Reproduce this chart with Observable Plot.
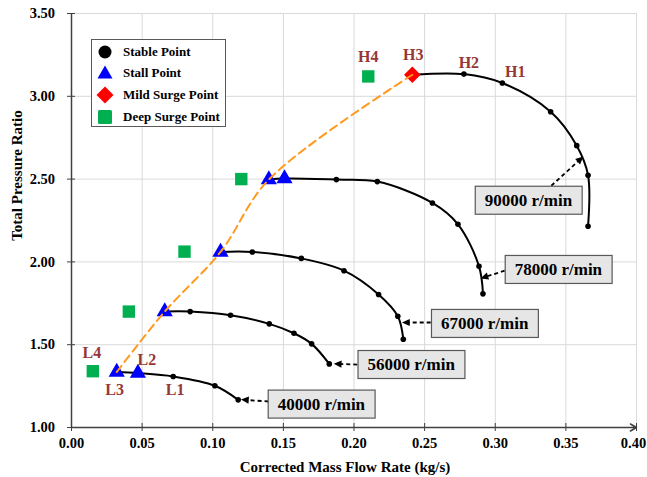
<!DOCTYPE html>
<html>
<head>
<meta charset="utf-8">
<script src="https://cdn.jsdelivr.net/npm/d3@7"></script>
<script src="https://cdn.jsdelivr.net/npm/@observablehq/plot@0.6"></script>
<style>
  html, body { margin: 0; padding: 0; background: #fff; }
  #chart { position: relative; width: 647px; height: 477px; font-family: "Liberation Serif", "Times New Roman", serif; }
  #chart svg text { font-family: "Liberation Serif", "Times New Roman", serif; font-weight: bold; }
  .legend {
    position: absolute; left: 91px; top: 39px; width: 135px; height: 88px;
    box-sizing: border-box; border: 1px solid #595959; background: #fff;
    font-weight: bold; font-size: 13px; color: #000;
  }
  .legend .row { position: absolute; left: 0; height: 20px; display: flex; align-items: center; }
  .legend .row svg { width: 24px; height: 20px; margin-left: 1px; }
  .legend .row span { margin-left: 6px; white-space: nowrap; }
</style>
</head>
<body>
<div id="chart"></div>
<script>
// Compressor map: total pressure ratio vs corrected mass flow rate per speed line.
// Kinds: "stable" point, "stall" point, "mild" surge point.
const flow40000 = [0.032, 0.047, 0.072, 0.1015, 0.118];
const ratio40000 = [1.335, 1.328, 1.308, 1.252, 1.167];
const kind40000 = ["stall", "stall", "stable", "stable", "stable"];

const flow56000 = [0.066, 0.084, 0.1126, 0.140, 0.1575, 0.170, 0.1825];
const ratio56000 = [1.700, 1.700, 1.678, 1.626, 1.569, 1.505, 1.384];
const kind56000 = ["stall", "stable", "stable", "stable", "stable", "stable", "stable"];

const flow67000 = [0.1055, 0.128, 0.1627, 0.1929, 0.2174, 0.231, 0.2349];
const ratio67000 = [2.060, 2.060, 2.021, 1.947, 1.803, 1.672, 1.533];
const kind67000 = ["stall", "stable", "stable", "stable", "stable", "stable", "stable"];

const flow78000 = [0.1397, 0.1508, 0.1875, 0.2165, 0.2555, 0.2736, 0.2885, 0.2913];
const ratio78000 = [2.497, 2.503, 2.497, 2.485, 2.356, 2.227, 1.973, 1.807];
const kind78000 = ["stall", "stall", "stable", "stable", "stable", "stable", "stable", "stable"];

const flow90000 = [0.2413, 0.2778, 0.305, 0.3392, 0.3577, 0.3657, 0.3657];
const ratio90000 = [3.130, 3.134, 3.080, 2.907, 2.702, 2.523, 2.215];
const kind90000 = ["mild", "stable", "stable", "stable", "stable", "stable", "stable"];

// Deep surge points, one per speed line (low to high speed)
const deepFlow = [0.0151, 0.0406, 0.080, 0.1202, 0.2101];
const deepRatio = [1.340, 1.700, 2.062, 2.500, 3.120];

const speedNames = ["40000 r/min", "56000 r/min", "67000 r/min", "78000 r/min", "90000 r/min"];
// Callout box centres and arrow ends, in data units
const calloutX = [0.1769, 0.2405, 0.2925, 0.3447, 0.3235];
const calloutY = [1.141, 1.380, 1.628, 1.954, 2.372];
const arrowFromX = [0.1395, 0.2023, 0.2543, 0.3067, 0.3397];
const arrowFromY = [1.157, 1.380, 1.634, 1.947, 2.460];
const arrowToX = [0.1225, 0.1882, 0.2365, 0.2920, 0.3605];
const arrowToY = [1.167, 1.384, 1.634, 1.907, 2.622];

const xTicks = [0, 0.05, 0.10, 0.15, 0.20, 0.25, 0.30, 0.35, 0.40];
const yTicks = [1.0, 1.5, 2.0, 2.5, 3.0, 3.5];

const speedSeries = [
  [flow40000, ratio40000, kind40000],
  [flow56000, ratio56000, kind56000],
  [flow67000, ratio67000, kind67000],
  [flow78000, ratio78000, kind78000],
  [flow90000, ratio90000, kind90000]
].map(([f, r, k], s) => f.map((x, i) => ({speed: speedNames[s], x, y: r[i], kind: k[i]})));

const allPoints = speedSeries.flat();
const deepPoints = deepFlow.map((x, i) => ({x, y: deepRatio[i]}));
// Surge line joins the surge-side end of each speed line
const surgeLine = speedSeries.map(s => s[0]);

const callouts = speedNames.map((t, i) => ({
  text: t, x: calloutX[i], y: calloutY[i],
  x1: arrowFromX[i], y1: arrowFromY[i], x2: arrowToX[i], y2: arrowToY[i]
}));

const s40 = speedSeries[0], s90 = speedSeries[4];
const pointTags = [
  {text: "H1", p: s90[2], dx: 13, dy: -11},
  {text: "H2", p: s90[1], dx: 5, dy: -11},
  {text: "H3", p: s90[0], dx: 1, dy: -20},
  {text: "H4", p: deepPoints[4], dx: 0, dy: -20},
  {text: "L1", p: s40[2], dx: 2, dy: 13},
  {text: "L2", p: s40[1], dx: 9, dy: -13},
  {text: "L3", p: s40[0], dx: -2, dy: 18},
  {text: "L4", p: deepPoints[0], dx: -1, dy: -18}
];

const fmt = d3.format(".2f");
const tagColor = "#953735";
const tickFont = {fontSize: 14.5, fontWeight: "bold", fill: "#000"};

const plot = Plot.plot({
  width: 647,
  height: 477,
  marginLeft: 71,
  marginRight: 11,
  marginTop: 13,
  marginBottom: 50,
  x: {domain: [0, 0.40]},
  y: {domain: [1, 3.5]},
  style: {background: "#fff", color: "#000"},
  marks: [
    Plot.gridX(xTicks, {stroke: "#d9d9d9", strokeOpacity: 1}),
    Plot.gridY(yTicks, {stroke: "#d9d9d9", strokeOpacity: 1}),
    Plot.axisX(xTicks, {text: null, tickSize: 8, dy: -4, stroke: "#404040", label: null}),
    Plot.text(xTicks.slice(0, -1), {x: d => d, frameAnchor: "bottom", lineAnchor: "top", text: fmt, dy: 10, ...tickFont}),
    Plot.text(xTicks.slice(-1), {x: d => d, frameAnchor: "bottom", lineAnchor: "top", text: fmt, dy: 10, dx: -3, ...tickFont}),
    Plot.axisY(yTicks, {tickFormat: fmt, tickSize: 8, dx: 4, tickPadding: 12.5, stroke: "#404040", label: null, ...tickFont}),
    Plot.ruleX([0], {stroke: "#404040", strokeWidth: 1.5}),
    Plot.arrow([0], {x1: 0, x2: 0.40, y1: 1, y2: 1, stroke: "#404040", strokeWidth: 1.5, headLength: 7}),

    // speed lines
    ...speedSeries.map(s => Plot.line(s, {x: "x", y: "y", curve: "catmull-rom", stroke: "#000", strokeWidth: 2})),
    Plot.dot(allPoints.filter(d => d.kind === "stable"), {x: "x", y: "y", r: 2.8, fill: "#000"}),
    Plot.dot(allPoints.filter(d => d.kind === "stall"), {x: "x", y: "y", symbol: "triangle", r: 6, fill: "#0000ff"}),
    Plot.dot(allPoints.filter(d => d.kind === "mild"), {x: "x", y: "y", symbol: "diamond2", r: 7.5, fill: "#ff0000"}),
    Plot.dot(deepPoints, {x: "x", y: "y", symbol: "square", r: 7, fill: "#00b050"}),

    // surge line
    Plot.line(surgeLine, {x: "x", y: "y", curve: "catmull-rom", stroke: "#ff9a1f", strokeWidth: 2, strokeDasharray: "8,5"}),

    // point tags
    ...pointTags.map(t => Plot.text([t.p], {x: "x", y: "y", text: () => t.text, dx: t.dx, dy: t.dy, fill: tagColor, fontSize: 16, fontWeight: "bold"})),

    // speed callouts
    Plot.link(callouts, {x1: "x1", y1: "y1", x2: "x2", y2: "y2", stroke: "#000", strokeWidth: 1.8, strokeDasharray: "4,3", markerEnd: "arrow"}),
    Plot.text(callouts, {x: "x", y: "y", text: "text", fontSize: 17, fontWeight: "bold", fill: "#000"}),

    // axis titles
    Plot.text(["Corrected Mass Flow Rate (kg/s)"], {frameAnchor: "bottom", textAnchor: "middle", lineAnchor: "middle", dy: 40, dx: -9, fontSize: 15, fontWeight: "bold"}),
    Plot.text(["Total Pressure Ratio"], {frameAnchor: "left", textAnchor: "middle", lineAnchor: "middle", rotate: -90, dx: -54, dy: -45, fontSize: 15, fontWeight: "bold"})
  ]
});

const chart = document.getElementById("chart");
chart.appendChild(plot);

// solid arrowheads on the callout leaders
plot.querySelectorAll("marker path").forEach(p => {
  p.setAttribute("d", "M-3.5,-3L3,0L-3.5,3Z");
  p.setAttribute("fill", "#000");
  p.setAttribute("stroke", "none");
});

// grey boxes behind the speed callouts
plot.querySelectorAll("text").forEach(t => {
  if (!/r\/min$/.test(t.textContent)) return;
  const bb = t.getBBox();
  const rect = document.createElementNS("http://www.w3.org/2000/svg", "rect");
  rect.setAttribute("x", bb.x - 9.5);
  rect.setAttribute("y", bb.y - 4.5);
  rect.setAttribute("width", bb.width + 19);
  rect.setAttribute("height", bb.height + 9);
  rect.setAttribute("fill", "#e7e6e6");
  rect.setAttribute("stroke", "#595959");
  rect.setAttribute("stroke-width", "1.2");
  if (t.getAttribute("transform")) rect.setAttribute("transform", t.getAttribute("transform"));
  t.parentNode.insertBefore(rect, t);
});

// legend
const legendItems = [
  {label: "Stable Point", shape: '<circle cx="12" cy="10" r="6.5" fill="#000"/>'},
  {label: "Stall Point", shape: '<path d="M12,2.5 L19.5,15.5 L4.5,15.5 Z" fill="#0000ff"/>'},
  {label: "Mild Surge Point", shape: '<path d="M12,1.5 L20.5,10 L12,18.5 L3.5,10 Z" fill="#ff0000"/>'},
  {label: "Deep Surge Point", shape: '<rect x="5" y="3" width="14" height="14" rx="1.5" fill="#00b050"/>'}
];
const legend = document.createElement("div");
legend.className = "legend";
const rowTops = [2, 23, 44.5, 67];
legendItems.forEach((it, i) => {
  const row = document.createElement("div");
  row.className = "row";
  row.style.top = rowTops[i] + "px";
  row.innerHTML = `<svg viewBox="0 0 24 20">${it.shape}</svg><span>${it.label}</span>`;
  legend.appendChild(row);
});
chart.appendChild(legend);
</script>
</body>
</html>
